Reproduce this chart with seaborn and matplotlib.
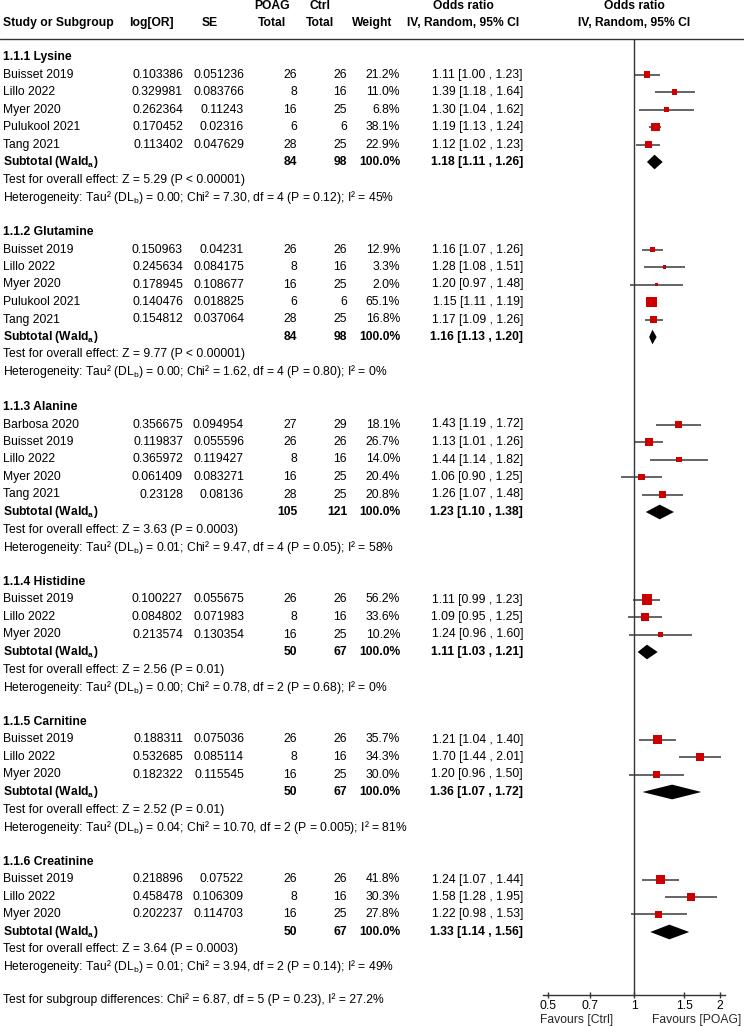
import numpy as np
import pandas as pd
import matplotlib
matplotlib.use("Agg")
import matplotlib.pyplot as plt
import seaborn as sns
from matplotlib import transforms
from matplotlib.lines import Line2D
from matplotlib.ticker import FixedLocator, FixedFormatter, NullLocator

# ---------------- data ----------------
group_labels = ["1.1.1 Lysine", "1.1.2 Glutamine", "1.1.3 Alanine",
                "1.1.4 Histidine", "1.1.5 Carnitine", "1.1.6 Creatinine"]

study = ["Buisset 2019", "Lillo 2022", "Myer 2020", "Pulukool 2021", "Tang 2021",
         "Buisset 2019", "Lillo 2022", "Myer 2020", "Pulukool 2021", "Tang 2021",
         "Barbosa 2020", "Buisset 2019", "Lillo 2022", "Myer 2020", "Tang 2021",
         "Buisset 2019", "Lillo 2022", "Myer 2020",
         "Buisset 2019", "Lillo 2022", "Myer 2020",
         "Buisset 2019", "Lillo 2022", "Myer 2020"]
group_id = [0] * 5 + [1] * 5 + [2] * 5 + [3] * 3 + [4] * 3 + [5] * 3
log_or = [0.103386, 0.329981, 0.262364, 0.170452, 0.113402,
          0.150963, 0.245634, 0.178945, 0.140476, 0.154812,
          0.356675, 0.119837, 0.365972, 0.061409, 0.23128,
          0.100227, 0.084802, 0.213574,
          0.188311, 0.532685, 0.182322,
          0.218896, 0.458478, 0.202237]
se = [0.051236, 0.083766, 0.11243, 0.02316, 0.047629,
      0.04231, 0.084175, 0.108677, 0.018825, 0.037064,
      0.094954, 0.055596, 0.119427, 0.083271, 0.08136,
      0.055675, 0.071983, 0.130354,
      0.075036, 0.085114, 0.115545,
      0.07522, 0.106309, 0.114703]
poag_total = [26, 8, 16, 6, 28, 26, 8, 16, 6, 28, 27, 26, 8, 16, 28,
              26, 8, 16, 26, 8, 16, 26, 8, 16]
ctrl_total = [26, 16, 25, 6, 25, 26, 16, 25, 6, 25, 29, 26, 16, 25, 25,
              26, 16, 25, 26, 16, 25, 26, 16, 25]
weight = [21.2, 11.0, 6.8, 38.1, 22.9,
          12.9, 3.3, 2.0, 65.1, 16.8,
          18.1, 26.7, 14.0, 20.4, 20.8,
          56.2, 33.6, 10.2,
          35.7, 34.3, 30.0,
          41.8, 30.3, 27.8]
odds_ratio = [1.11, 1.39, 1.30, 1.19, 1.12,
              1.16, 1.28, 1.20, 1.15, 1.17,
              1.43, 1.13, 1.44, 1.06, 1.26,
              1.11, 1.09, 1.24,
              1.21, 1.70, 1.20,
              1.24, 1.58, 1.22]
ci_low = [1.00, 1.18, 1.04, 1.13, 1.02,
          1.07, 1.08, 0.97, 1.11, 1.09,
          1.19, 1.01, 1.14, 0.90, 1.07,
          0.99, 0.95, 0.96,
          1.04, 1.44, 0.96,
          1.07, 1.28, 0.98]
ci_high = [1.23, 1.64, 1.62, 1.24, 1.23,
           1.26, 1.51, 1.48, 1.19, 1.26,
           1.72, 1.26, 1.82, 1.25, 1.48,
           1.23, 1.25, 1.60,
           1.40, 2.01, 1.50,
           1.44, 1.95, 1.53]

sub_poag = [84, 84, 105, 50, 50, 50]
sub_ctrl = [98, 98, 121, 67, 67, 67]
sub_or = [1.18, 1.16, 1.23, 1.11, 1.36, 1.33]
sub_low = [1.11, 1.13, 1.10, 1.03, 1.07, 1.14]
sub_high = [1.26, 1.20, 1.38, 1.21, 1.72, 1.56]
z_value = ["5.29", "9.77", "3.63", "2.56", "2.52", "3.64"]
z_p = ["P < 0.00001", "P < 0.00001", "P = 0.0003", "P = 0.01", "P = 0.01", "P = 0.0003"]
tau2 = ["0.00", "0.00", "0.01", "0.00", "0.04", "0.01"]
chi2 = ["7.30", "1.62", "9.47", "0.78", "10.70", "3.94"]
het_df = [4, 4, 4, 2, 2, 2]
het_p = ["0.12", "0.80", "0.05", "0.68", "0.005", "0.14"]
i2 = ["45%", "0%", "58%", "0%", "81%", "49%"]
subgroup_test = "Test for subgroup differences: Chi² = 6.87, df = 5 (P = 0.23), I² = 27.2%"

xticks = [0.5, 0.7, 1, 1.5, 2]
xtick_labels = ["0.5", "0.7", "1", "1.5", "2"]
favours_left = "Favours [Ctrl]"
favours_right = "Favours [POAG]"

# ---------------- style ----------------
sns.set_style("ticks")
plt.rcParams["font.family"] = ["Liberation Sans", "DejaVu Sans"]
plt.rcParams["mathtext.fontset"] = "custom"
plt.rcParams["mathtext.rm"] = "Liberation Sans"
plt.rcParams["mathtext.bf"] = "Liberation Sans:bold"
plt.rcParams["mathtext.it"] = "Liberation Sans:italic"

FS = 8.7
W, H = 744, 1026
ROW0_PX, ROW_PX = 57.0, 17.5
TOP_PX, AXIS_PX = 39.0, 995.0
AX_L, AX_R = 543.0, 725.0

fig = plt.figure(figsize=(W / 100, H / 100), dpi=100)
ax = fig.add_axes([AX_L / W, 1 - AXIS_PX / H, (AX_R - AX_L) / W, (AXIS_PX - TOP_PX) / H])

def px_to_row(py):
    return (py - ROW0_PX) / ROW_PX

trans = transforms.blended_transform_factory(fig.transFigure, ax.transData)

def put(xpx, row, s, ha="left", bold=False):
    ax.text(xpx / W, row, s, transform=trans, ha=ha, va="center",
            fontsize=FS, fontweight="bold" if bold else "normal", color="black")

# ---------------- row layout ----------------
study_rows = []
sub_rows = []
r = 0
for g, lab in enumerate(group_labels):
    put(3, r, lab, bold=True)
    idx = [i for i, gi in enumerate(group_id) if gi == g]
    for k, i in enumerate(idx):
        rr = r + 1 + k
        study_rows.append(rr)
        put(3, rr, study[i])
        put(183, rr, f"{log_or[i]}", ha="right")
        put(244, rr, f"{se[i]}", ha="right")
        put(297, rr, f"{poag_total[i]}", ha="right")
        put(347, rr, f"{ctrl_total[i]}", ha="right")
        put(400, rr, f"{weight[i]:.1f}%", ha="right")
        put(523, rr, f"{odds_ratio[i]:.2f} [{ci_low[i]:.2f} , {ci_high[i]:.2f}]", ha="right")
    n = len(idx)
    rs = r + n + 1
    sub_rows.append(rs)
    put(3, rs, r"Subtotal (Wald$_{\mathbf{a}}$)", bold=True)
    put(297, rs, f"{sub_poag[g]}", ha="right", bold=True)
    put(347, rs, f"{sub_ctrl[g]}", ha="right", bold=True)
    put(400, rs, "100.0%", ha="right", bold=True)
    put(523, rs, f"{sub_or[g]:.2f} [{sub_low[g]:.2f} , {sub_high[g]:.2f}]", ha="right", bold=True)
    put(3, rs + 1, f"Test for overall effect: Z = {z_value[g]} ({z_p[g]})")
    put(3, rs + 2, r"Heterogeneity: Tau² (DL$_{\mathrm{b}}$) = " +
        f"{tau2[g]}; Chi² = {chi2[g]}, df = {het_df[g]} (P = {het_p[g]}); I² = {i2[g]}")
    r += n + 5
put(3, r - 0.15, subgroup_test)

# ---------------- header ----------------
h1, h2 = px_to_row(6), px_to_row(23)
put(3, h2, "Study or Subgroup", bold=True)
put(151, h2, "log[OR]", ha="center", bold=True)
put(210, h2, "SE", ha="center", bold=True)
put(272, h1, "POAG", ha="center", bold=True)
put(272, h2, "Total", ha="center", bold=True)
put(320, h1, "Ctrl", ha="center", bold=True)
put(320, h2, "Total", ha="center", bold=True)
put(372, h2, "Weight", ha="center", bold=True)
put(463, h1, "Odds ratio", ha="center", bold=True)
put(463, h2, "IV, Random, 95% CI", ha="center", bold=True)
put(634, h1, "Odds ratio", ha="center", bold=True)
put(634, h2, "IV, Random, 95% CI", ha="center", bold=True)
fig.add_artist(Line2D([0, 1], [1 - TOP_PX / H] * 2, transform=fig.transFigure,
                      color="#333333", lw=1.0))

# ---------------- forest ----------------
df = pd.DataFrame({"OR": odds_ratio, "row": study_rows, "weight": weight,
                   "lo": ci_low, "hi": ci_high})
ax.set_xscale("log")
ax.hlines(df["row"], df["lo"], df["hi"], color="#3a3a3a", lw=1.1, zorder=2)
sns.scatterplot(data=df, x="OR", y="row", size="weight", sizes=(6, 62),
                marker="s", color="#cc0000", linewidth=0, legend=False,
                ax=ax, zorder=3)
dh = 0.42
for g in range(len(group_labels)):
    rs = sub_rows[g]
    ax.fill([sub_low[g], sub_or[g], sub_high[g], sub_or[g]],
            [rs, rs - dh, rs, rs + dh], color="black", lw=0, zorder=3)

ax.axvline(1, color="#333333", lw=1.0, zorder=1)
fext = 1.041
ax.set_xlim(xticks[0] / fext, xticks[-1] * fext)
ax.set_ylim(px_to_row(AXIS_PX), px_to_row(TOP_PX))
ax.set_xlabel("")
ax.set_ylabel("")
ax.set_yticks([])
for s in ["top", "right", "left"]:
    ax.spines[s].set_visible(False)
ax.spines["bottom"].set_color("#333333")
ax.spines["bottom"].set_linewidth(1.0)
ax.xaxis.set_major_locator(FixedLocator(xticks))
ax.xaxis.set_major_formatter(FixedFormatter(xtick_labels))
ax.xaxis.set_minor_locator(NullLocator())
ax.tick_params(axis="x", which="major", direction="inout", length=5, width=1,
               color="#333333", labelsize=FS, pad=0.8, labelcolor="black")
ax.patch.set_alpha(0)

fav_row = px_to_row(1023)
ax.text(0.63, fav_row, favours_left, ha="center", va="baseline", fontsize=FS)
ax.text(1.65, fav_row, favours_right, ha="center", va="baseline", fontsize=FS)

fig.savefig("out.png", dpi=100)
